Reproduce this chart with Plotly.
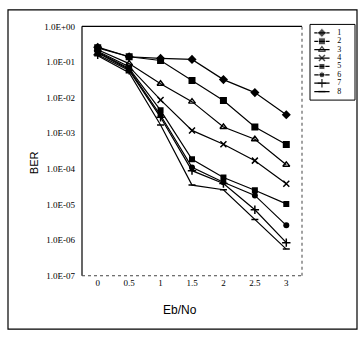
import plotly.graph_objects as go

# ---- data ----
ebno = [0, 0.5, 1, 1.5, 2, 2.5, 3]
series_names = ["1", "2", "3", "4", "5", "6", "7", "8"]
ber_1 = [0.26, 0.14, 0.126, 0.118, 0.032, 0.0138, 0.0033]
ber_2 = [0.25, 0.14, 0.11, 0.030, 0.0083, 0.0015, 0.00048]
ber_3 = [0.22, 0.09, 0.0245, 0.0077, 0.0015, 0.00068, 0.00013]
ber_4 = [0.20, 0.074, 0.0086, 0.0012, 0.00049, 0.00017, 0.000038]
ber_5 = [0.19, 0.066, 0.0044, 0.000186, 0.000057, 0.000025, 0.0000104]
ber_6 = [0.18, 0.062, 0.0032, 0.00011, 0.000042, 0.000018, 0.0000026]
ber_7 = [0.16, 0.058, 0.0028, 0.000089, 0.000039, 0.0000071, 0.00000085]
ber_8 = [0.15, 0.050, 0.0017, 0.000035, 0.000026, 0.0000038, 0.00000056]
y_tickvals = [1, 1e-1, 1e-2, 1e-3, 1e-4, 1e-5, 1e-6, 1e-7]
y_ticktext = ["1.0E+00", "1.0E-01", "1.0E-02", "1.0E-03", "1.0E-04", "1.0E-05", "1.0E-06", "1.0E-07"]
x_ticktext = ["0", "0.5", "1", "1.5", "2", "2.5", "3"]

all_series = [ber_1, ber_2, ber_3, ber_4, ber_5, ber_6, ber_7, ber_8]
markers = [
    dict(symbol="diamond", size=7),
    dict(symbol="square", size=7),
    dict(symbol="triangle-up-open", size=6, line=dict(width=1.4)),
    dict(symbol="x-thin", size=6, line=dict(width=1.5, color="black")),
    dict(symbol="square", size=6),
    dict(symbol="circle", size=6),
    dict(symbol="cross-thin", size=6, line=dict(width=1.5, color="black")),
    dict(symbol="line-ew", size=5, line=dict(width=1.5, color="black")),
]

W, H = 360, 338
L, R, T, B = 82, 302, 22, 279


def px(xp):
    return xp / W


def py(yp):
    return (H - yp) / H


fig = go.Figure()
for name, vals, mk in zip(series_names, all_series, markers):
    m = dict(color="black")
    m.update(mk)
    fig.add_trace(go.Scatter(
        x=ebno, y=vals, name=name, mode="lines+markers",
        line=dict(color="black", width=1.2), marker=m, showlegend=False,
    ))

# compact legend drawn on its own small axes inside the legend box
for i, (name, mk) in enumerate(zip(series_names, markers)):
    m = dict(color="black")
    m.update(mk)
    m["size"] = [0, mk["size"], 0]
    fig.add_trace(go.Scatter(
        x=[0, 0.5, 1], y=[i + 1] * 3, mode="lines+markers",
        line=dict(color="black", width=1.2), marker=m,
        xaxis="x2", yaxis="y2", showlegend=False, hoverinfo="skip",
    ))
    fig.add_trace(go.Scatter(
        x=[1.5], y=[i + 1], mode="text", text=[name],
        textposition="middle right",
        textfont=dict(family="Liberation Serif", size=8, color="black"),
        xaxis="x2", yaxis="y2", showlegend=False, hoverinfo="skip",
    ))

fig.update_layout(
    width=W, height=H,
    margin=dict(l=0, r=0, t=0, b=0),
    paper_bgcolor="white", plot_bgcolor="white",
    font=dict(family="Liberation Serif", size=9, color="black"),
    showlegend=False,
    xaxis=dict(
        domain=[px(L), px(R)],
        range=[-0.25, 3.25], tickvals=ebno, ticktext=x_ticktext,
        showgrid=False, zeroline=False, showline=False, ticks="",
        tickfont=dict(family="Liberation Serif", size=9),
        fixedrange=True,
    ),
    yaxis=dict(
        domain=[py(B), py(T)],
        type="log", range=[-7, 0], tickvals=y_tickvals, ticktext=y_ticktext,
        showgrid=False, zeroline=False, showline=False, ticks="",
        tickfont=dict(family="Liberation Serif", size=9),
        ticklabelstandoff=6,
    ),
    xaxis2=dict(
        domain=[px(312), px(354)], range=[-0.15, 2.6], anchor="y2",
        visible=False, fixedrange=True,
    ),
    yaxis2=dict(
        domain=[py(97), py(21)], range=[8.9, 0.1], anchor="x2",
        visible=False, fixedrange=True,
    ),
    shapes=[
        # outer frame
        dict(type="rect", xref="paper", yref="paper",
             x0=px(8), x1=px(357), y0=py(334), y1=py(5),
             line=dict(color="black", width=1.2)),
        # legend box
        dict(type="rect", xref="paper", yref="paper",
             x0=px(310), x1=px(355), y0=py(98), y1=py(20),
             line=dict(color="black", width=1)),
        # plot area borders
        dict(type="line", xref="paper", yref="paper", x0=px(L), x1=px(L), y0=py(B), y1=py(T),
             line=dict(color="black", width=1.2)),
        dict(type="line", xref="paper", yref="paper", x0=px(L), x1=px(R), y0=py(T), y1=py(T),
             line=dict(color="black", width=1.2)),
        dict(type="line", xref="paper", yref="paper", x0=px(R), x1=px(R), y0=py(B), y1=py(T),
             line=dict(color="#444", width=1, dash="dot")),
        dict(type="line", xref="paper", yref="paper", x0=px(L), x1=px(R), y0=py(B), y1=py(B),
             line=dict(color="#444", width=1, dash="dot")),
    ],
    annotations=[
        dict(text="BER", xref="paper", yref="paper", x=px(26), y=py(163),
             showarrow=False, textangle=-90,
             font=dict(family="Liberation Sans", size=11, color="black")),
        dict(text="Eb/No", xref="paper", yref="paper", x=px(180), y=py(324),
             showarrow=False,
             font=dict(family="Liberation Sans", size=12, color="black")),
    ],
)

fig.write_html("out.html")
